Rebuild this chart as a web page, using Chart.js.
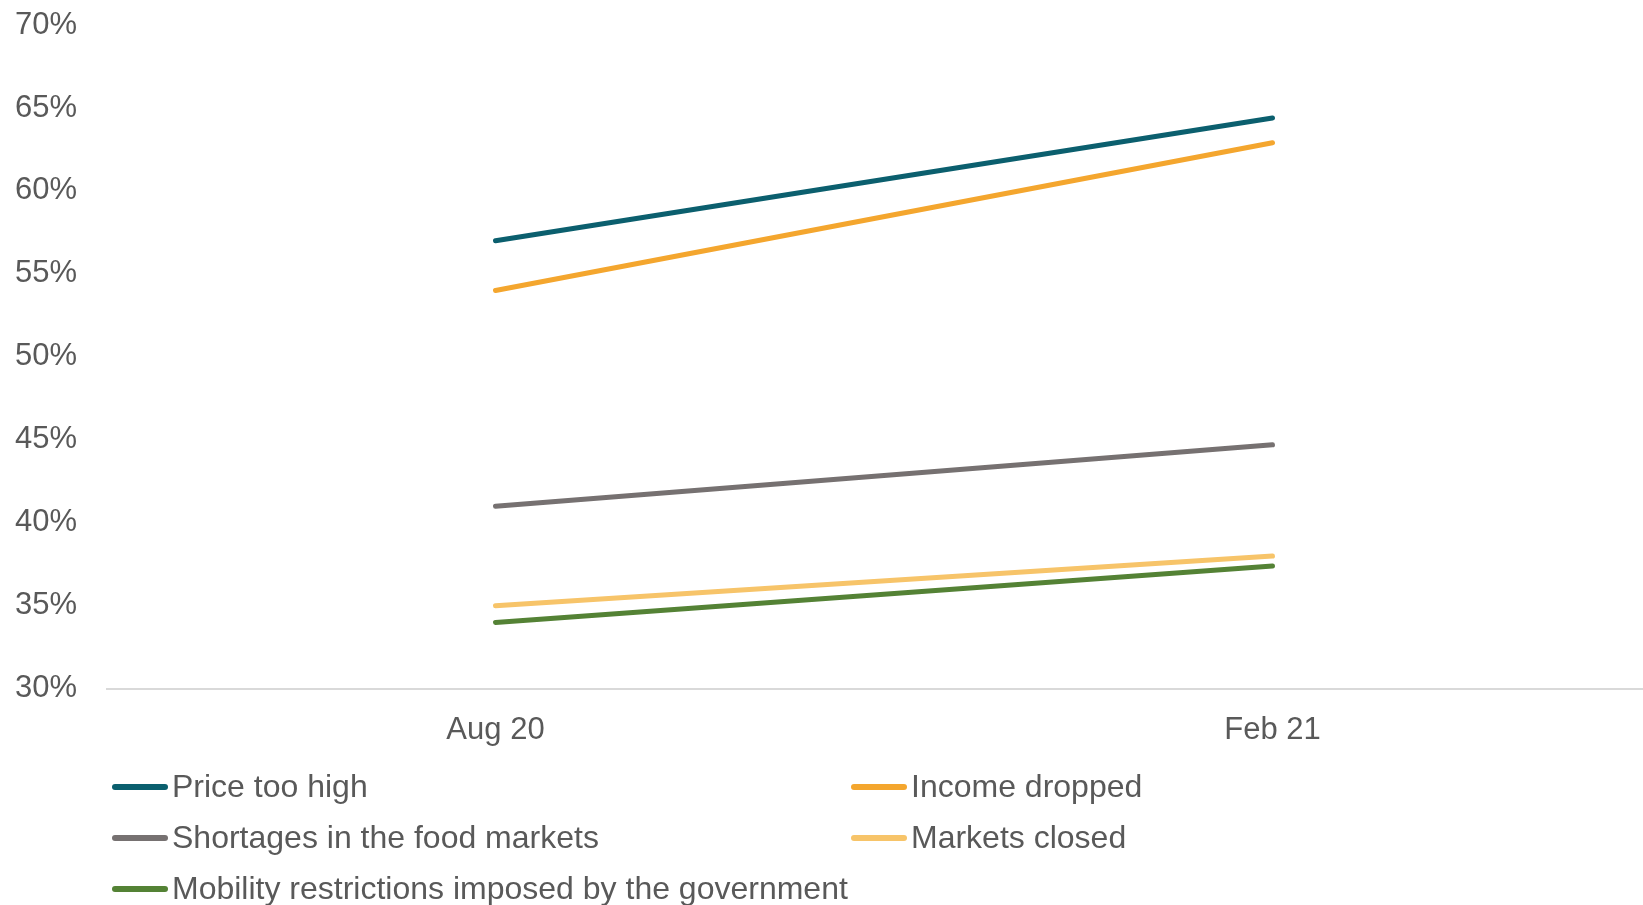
<!DOCTYPE html>
<html>
<head>
<meta charset="utf-8">
<script src="https://cdn.jsdelivr.net/npm/chart.js@4/dist/chart.umd.min.js"></script>
<style>
  html, body { margin: 0; padding: 0; background: #ffffff; overflow: hidden; }
  #wrap { position: relative; width: 1665px; height: 905px; }
</style>
</head>
<body>
<div id="wrap"><canvas id="c"></canvas></div>
<script>
const categories = ['Aug 20', 'Feb 21'];
const seriesNames = ['Price too high', 'Income dropped', 'Shortages in the food markets', 'Markets closed', 'Mobility restrictions imposed by the government'];
const priceTooHigh = [57.0, 64.4];
const incomeDropped = [54.0, 62.9];
const shortages = [41.0, 44.7];
const marketsClosed = [35.0, 38.0];
const mobility = [34.0, 37.4];
const seriesColors = ['#0b5f6e', '#f4a62e', '#767171', '#f7c469', '#548235'];
const yTicks = [30, 35, 40, 45, 50, 55, 60, 65, 70];

const seriesValues = [priceTooHigh, incomeDropped, shortages, marketsClosed, mobility];
const FONT = '"Liberation Sans", Arial, sans-serif';
const TEXT = '#595959';

const gridLegend = {
  id: 'gridLegend',
  afterDraw(chart) {
    const ctx = chart.ctx;
    const cols = [112, 851];
    const rows = [787, 838, 889];
    ctx.save();
    chart.data.datasets.forEach((ds, i) => {
      const x = cols[i % 2];
      const y = rows[Math.floor(i / 2)];
      ctx.strokeStyle = ds.borderColor;
      ctx.lineWidth = 6;
      ctx.lineCap = 'round';
      ctx.beginPath();
      ctx.moveTo(x + 3, y);
      ctx.lineTo(x + 53, y);
      ctx.stroke();
      ctx.fillStyle = TEXT;
      ctx.font = '32px ' + FONT;
      ctx.textAlign = 'left';
      ctx.textBaseline = 'middle';
      ctx.fillText(ds.label, x + 60, y + 1);
    });
    ctx.restore();
  }
};

new Chart(document.getElementById('c'), {
  type: 'line',
  data: {
    labels: categories,
    datasets: seriesNames.map((name, i) => ({
      label: name,
      data: seriesValues[i],
      borderColor: seriesColors[i],
      backgroundColor: seriesColors[i],
      borderWidth: 5,
      borderCapStyle: 'round',
      pointRadius: 0,
      pointHoverRadius: 0,
      tension: 0,
      fill: false
    }))
  },
  options: {
    responsive: true,
    maintainAspectRatio: false,
    animation: false,
    events: [],
    layout: { padding: { top: 25, right: 4, bottom: 133, left: 0 } },
    plugins: {
      legend: { display: false },
      tooltip: { enabled: false }
    },
    scales: {
      x: {
        offset: true,
        grid: { display: false, drawTicks: false },
        border: { display: true, color: '#d9d9d9', width: 2 },
        ticks: { color: TEXT, font: { family: FONT, size: 31 }, padding: 23, maxRotation: 0 }
      },
      y: {
        min: 30,
        max: 70,
        afterFit(scale) { scale.width = 107; scale.paddingTop = 0; scale.paddingBottom = 0; },
        afterBuildTicks(scale) { scale.ticks = yTicks.map(v => ({ value: v })); },
        grid: { display: false, drawTicks: false },
        border: { display: false },
        ticks: {
          color: TEXT,
          font: { family: FONT, size: 31 },
          padding: 30,
          callback: v => v + '%'
        }
      }
    }
  },
  plugins: [gridLegend]
});
</script>
</body>
</html>
